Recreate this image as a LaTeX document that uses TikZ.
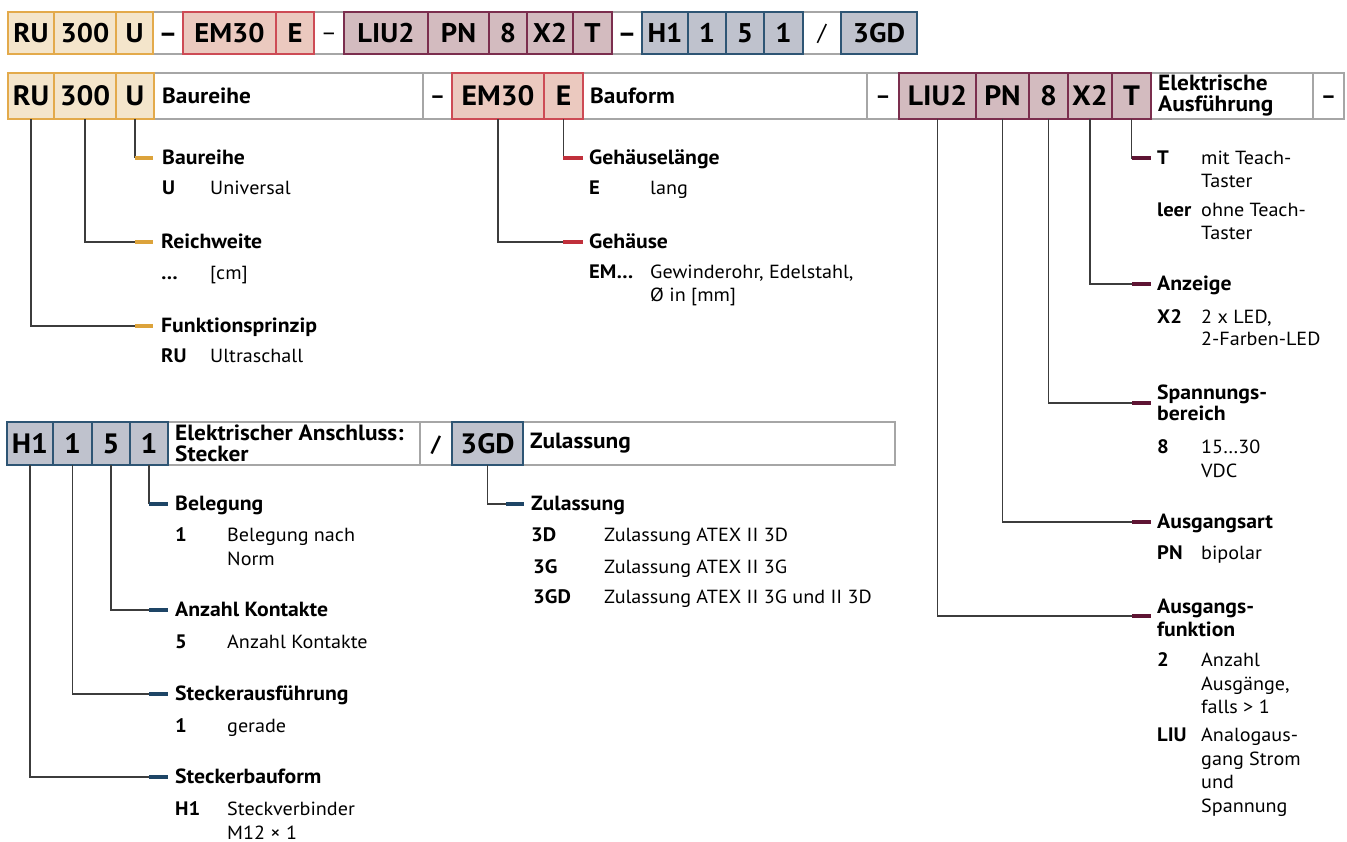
\documentclass[tikz,border=0pt]{standalone}
\usepackage{fontspec}
\setmainfont{PT Sans}[FakeStretch=1.06]
\usetikzlibrary{fit}
\definecolor{oFill}{HTML}{F4E5CB}
\definecolor{oLine}{HTML}{E3AA4B}
\definecolor{oDash}{HTML}{DCA33B}
\definecolor{rFill}{HTML}{EBC9BF}
\definecolor{rLine}{HTML}{CD4B55}
\definecolor{rDash}{HTML}{C0303B}
\definecolor{mFill}{HTML}{D3BBBF}
\definecolor{mLine}{HTML}{7B2E4E}
\definecolor{mDash}{HTML}{5E1433}
\definecolor{bFill}{HTML}{BFC2CD}
\definecolor{bLine}{HTML}{2E5574}
\definecolor{bDash}{HTML}{1E4566}
\definecolor{wLine}{HTML}{A6A6A6}
\definecolor{connC}{HTML}{3C3C3C}
\newcommand{\ml}[1]{\begin{tabular}[t]{@{}l@{}}#1\end{tabular}}
\newcommand{\cell}[8]{\node[#1, fit={(#4,#6) (#5,#7)}] (#3) {};
  \node[#2, inner sep=0pt] (#3t) at (#3.center) {#8};}
\tikzset{
  cellbase/.style={inner sep=0pt, outer sep=0pt, line width=1.2pt},
  ocell/.style={cellbase, draw=oLine, fill=oFill},
  rcell/.style={cellbase, draw=rLine, fill=rFill},
  mcell/.style={cellbase, draw=mLine, fill=mFill},
  bcell/.style={cellbase, draw=bLine, fill=bFill},
  wcell/.style={cellbase, draw=wLine, fill=white},
  codefont/.style={font=\bfseries\fontsize{28}{28}\selectfont, text height=19.6pt, text depth=0pt},
  topfont/.style={font=\bfseries\fontsize{27}{27}\selectfont, text height=18.9pt, text depth=0pt},
  topthin/.style={font=\fontsize{23}{23}\selectfont, text height=16pt, text depth=0pt},
  sepfont/.style={font=\bfseries\fontsize{22}{22}\selectfont, text height=15.4pt, text depth=0pt},
  boxlabel/.style={anchor=west, inner sep=0pt, font=\bfseries\fontsize{22}{20.5}\selectfont, align=left},
  hdr/.style={anchor=base west, inner sep=0pt, font=\bfseries\fontsize{20.5}{22}\selectfont},
  key/.style={anchor=base west, inner sep=0pt, font=\bfseries\fontsize{19.5}{23.5}\selectfont},
  val/.style={anchor=base west, inner sep=0pt, font=\fontsize{19}{23.5}\selectfont},
  conn/.style={draw=connC, line width=1.2pt},
  odash/.style={draw=oDash, line width=4.5pt},
  rdash/.style={draw=rDash, line width=4.5pt},
  mdash/.style={draw=mDash, line width=4.5pt},
  bdash/.style={draw=bDash, line width=4.5pt}
}
\begin{document}
\begin{tikzpicture}[x=1pt,y=-1pt]
\useasboundingbox[fill=white] (0,0) rectangle (1347,842);

% ---------- top row ----------
\node[wcell, fit={(8,12) (917,54)}] (toprow) {};
\cell{wcell}{topfont}{tD1}{153}{183}{12}{54}{–}
\cell{wcell}{topthin}{tD2}{314}{344}{12}{54}{–}
\cell{wcell}{topfont}{tD3}{612}{642}{12}{54}{–}
\cell{wcell}{topthin}{tD4}{803}{841}{12}{54}{/}
\cell{ocell}{topfont}{tRU}{8}{54}{12}{54}{RU}
\cell{ocell}{topfont}{t300}{54}{116}{12}{54}{300}
\cell{ocell}{topfont}{tU}{116}{153}{12}{54}{U}
\cell{rcell}{topfont}{tEM}{183}{276}{12}{54}{EM30}
\cell{rcell}{topfont}{tE}{276}{314}{12}{54}{E}
\cell{mcell}{topfont}{tLIU}{344}{428}{12}{54}{LIU2}
\cell{mcell}{topfont}{tPN}{428}{489}{12}{54}{PN}
\cell{mcell}{topfont}{t8}{489}{527}{12}{54}{8}
\cell{mcell}{topfont}{tX2}{527}{573}{12}{54}{X2}
\cell{mcell}{topfont}{tT}{573}{612}{12}{54}{T}
\cell{bcell}{topfont}{tH1}{642}{688}{12}{54}{H1}
\cell{bcell}{topfont}{tS1}{688}{726}{12}{54}{1}
\cell{bcell}{topfont}{tS5}{726}{764}{12}{54}{5}
\cell{bcell}{topfont}{tB1}{764}{803}{12}{54}{1}
\cell{bcell}{topfont}{t3GD}{841}{917}{12}{54}{3GD}

% ---------- second row ----------
\cell{wcell}{sepfont}{wBau}{154}{423}{73}{119}{}
\cell{wcell}{sepfont}{wD1}{423}{452}{73}{119}{–}
\cell{wcell}{sepfont}{wForm}{583}{867}{73}{119}{}
\cell{wcell}{sepfont}{wD2}{867}{899}{73}{119}{–}
\cell{wcell}{sepfont}{wEl}{1151}{1313}{73}{119}{}
\cell{wcell}{sepfont}{wD3}{1313}{1344}{73}{119}{–}
\node[boxlabel] (lBau) at (162,96) {Baureihe};
\node[boxlabel] (lForm) at (590,96) {Bauform};
\node[boxlabel] (lEl) at (1158,95.5) {Elektrische\\Ausführung};
\cell{ocell}{codefont}{bRU}{8}{54}{73}{119}{RU}
\cell{ocell}{codefont}{b300}{54}{116}{73}{119}{300}
\cell{ocell}{codefont}{bU}{116}{154}{73}{119}{U}
\cell{rcell}{codefont}{bEM}{452}{544}{73}{119}{EM30}
\cell{rcell}{codefont}{bE}{544}{583}{73}{119}{E}
\cell{mcell}{codefont}{bLIU}{899}{976}{73}{119}{LIU2}
\cell{mcell}{codefont}{bPN}{976}{1029}{73}{119}{PN}
\cell{mcell}{codefont}{b8}{1029}{1068}{73}{119}{8}
\cell{mcell}{codefont}{bX2}{1068}{1112}{73}{119}{X2}
\cell{mcell}{codefont}{bT}{1112}{1151}{73}{119}{T}

% ---------- third row ----------
\cell{wcell}{sepfont}{wAns}{168}{420}{422}{465}{}
\cell{wcell}{sepfont}{wSl}{420}{452}{422}{465}{/}
\cell{wcell}{sepfont}{wZul}{523}{895}{422}{465}{}
\node[boxlabel] (lAns) at (175,443.5) {Elektrischer Anschluss:\\Stecker};
\node[boxlabel] (lZul) at (530,443.5) {Zulassung};
\cell{bcell}{codefont}{cH1}{7}{53}{422}{465}{H1}
\cell{bcell}{codefont}{cS1}{53}{92}{422}{465}{1}
\cell{bcell}{codefont}{cS5}{92}{130}{422}{465}{5}
\cell{bcell}{codefont}{cB1}{130}{168}{422}{465}{1}
\cell{bcell}{codefont}{c3GD}{452}{523}{422}{465}{3GD}

% ---------- group 1 ----------
\coordinate (kU) at (135,158);
\coordinate (k300) at (135,242);
\coordinate (kRU) at (135,326);
\draw[conn] (bU.south) |- (kU);
\draw[conn] (b300.south) |- (k300);
\draw[conn] (bRU.south) |- (kRU);
\draw[odash] (kU) -- ++(18,0);
\draw[odash] (k300) -- ++(18,0);
\draw[odash] (kRU) -- ++(18,0);
\node[hdr] (h1a) at (162,164.5) {Baureihe};
\node[key] (k1a) at (162,194.5) {U};
\node[val] (v1a) at (210,194.5) {Universal};
\node[hdr] (h1b) at (161,248.5) {Reichweite};
\node[key] (k1b) at (161,279.5) {…};
\node[val] (v1b) at (210,279.5) {[cm]};
\node[hdr] (h1c) at (161,332.5) {Funktionsprinzip};
\node[key] (k1c) at (161,362.5) {RU};
\node[val] (v1c) at (210,362.5) {Ultraschall};

% ---------- group 2 ----------
\coordinate (kE) at (563,158);
\coordinate (kEM) at (563,242);
\draw[conn] (bE.south) |- (kE);
\draw[conn] (bEM.south) |- (kEM);
\draw[rdash] (kE) -- ++(20,0);
\draw[rdash] (kEM) -- ++(20,0);
\node[hdr] (h2a) at (589,164.5) {Gehäuselänge};
\node[key] (k2a) at (589,194.5) {E};
\node[val] (v2a) at (650,194.5) {lang};
\node[hdr] (h2b) at (589,248.5) {Gehäuse};
\node[key] (k2b) at (589,278.5) {EM…};
\node[val] (v2b) at (650,278.5) {\ml{Gewinderohr, Edelstahl,\\Ø in [mm]}};

% ---------- group 3 ----------
\coordinate (kT) at (1132,158);
\coordinate (kX2) at (1132,284);
\coordinate (k8) at (1132,403);
\coordinate (kPN) at (1132,522);
\coordinate (kLIU) at (1132,616);
\draw[conn] (bT.south) |- (kT);
\draw[conn] (bX2.south) |- (kX2);
\draw[conn] (b8.south) |- (k8);
\draw[conn] (bPN.south) |- (kPN);
\draw[conn] (bLIU.south) |- (kLIU);
\draw[mdash] (kT) -- ++(19,0);
\draw[mdash] (kX2) -- ++(19,0);
\draw[mdash] (k8) -- ++(19,0);
\draw[mdash] (kPN) -- ++(19,0);
\draw[mdash] (kLIU) -- ++(19,0);
\node[key] (k3a) at (1157,164.5) {T};
\node[val] (v3a) at (1201,164.5) {\ml{mit Teach-\\Taster}};
\node[key] (k3b) at (1157,216.5) {leer};
\node[val] (v3b) at (1201,216.5) {\ml{ohne Teach-\\Taster}};
\node[hdr] (h3c) at (1157,290.5) {Anzeige};
\node[key] (k3c) at (1157,323.5) {X2};
\node[val, font=\fontsize{19}{22}\selectfont] (v3c) at (1201,323.5) {\ml{2 x LED,\\2-Farben-LED}};
\node[hdr, font=\bfseries\fontsize{20.5}{21}\selectfont] (h3d) at (1157,399.5) {\ml{Spannungs-\\bereich}};
\node[key] (k3d) at (1157,453.5) {8};
\node[val] (v3d) at (1201,453.5) {\ml{15…30\\VDC}};
\node[hdr] (h3e) at (1157,528.5) {Ausgangsart};
\node[key] (k3e) at (1157,559.5) {PN};
\node[val] (v3e) at (1201,559.5) {bipolar};
\node[hdr, font=\bfseries\fontsize{20.5}{23}\selectfont] (h3f) at (1157,613.5) {\ml{Ausgangs-\\funktion}};
\node[key] (k3f) at (1157,666.5) {2};
\node[val] (v3f) at (1201,666.5) {\ml{Anzahl\\Ausgänge,\\falls > 1}};
\node[key] (k3g) at (1157,741.5) {LIU};
\node[val] (v3g) at (1201,741.5) {\ml{Analogaus-\\gang Strom\\und\\Spannung}};

% ---------- group 4 ----------
\coordinate (kB1) at (149,504);
\coordinate (kS5) at (149,610);
\coordinate (kS1) at (149,694);
\coordinate (kH1) at (149,777);
\draw[conn] (cB1.south) |- (kB1);
\draw[conn] (cS5.south) |- (kS5);
\draw[conn] (cS1.south) |- (kS1);
\draw[conn] (cH1.south) |- (kH1);
\draw[bdash] (kB1) -- ++(19,0);
\draw[bdash] (kS5) -- ++(19,0);
\draw[bdash] (kS1) -- ++(19,0);
\draw[bdash] (kH1) -- ++(19,0);
\node[hdr] (h4a) at (175,510.5) {Belegung};
\node[key] (k4a) at (175,541.5) {1};
\node[val] (v4a) at (227,541.5) {\ml{Belegung nach\\Norm}};
\node[hdr] (h4b) at (175,616.5) {Anzahl Kontakte};
\node[key] (k4b) at (175,648.5) {5};
\node[val] (v4b) at (227,648.5) {Anzahl Kontakte};
\node[hdr] (h4c) at (175,700.5) {Steckerausführung};
\node[key] (k4c) at (175,732.5) {1};
\node[val] (v4c) at (227,732.5) {gerade};
\node[hdr] (h4d) at (175,783.5) {Steckerbauform};
\node[key] (k4d) at (175,815.5) {H1};
\node[val] (v4d) at (227,815.5) {\ml{Steckverbinder\\M12 × 1}};

% ---------- group 5 ----------
\coordinate (kZ) at (506,504);
\draw[conn] (c3GD.south) |- (kZ);
\draw[bdash] (kZ) -- ++(18,0);
\node[hdr] (h5a) at (531,510.5) {Zulassung};
\node[key] (k5a) at (531,541.5) {3D};
\node[val] (v5a) at (604,541.5) {Zulassung ATEX II 3D};
\node[key] (k5b) at (533,573.5) {3G};
\node[val] (v5b) at (604,573.5) {Zulassung ATEX II 3G};
\node[key] (k5c) at (533,603.5) {3GD};
\node[val] (v5c) at (604,603.5) {Zulassung ATEX II 3G und II 3D};
\end{tikzpicture}
\end{document}
